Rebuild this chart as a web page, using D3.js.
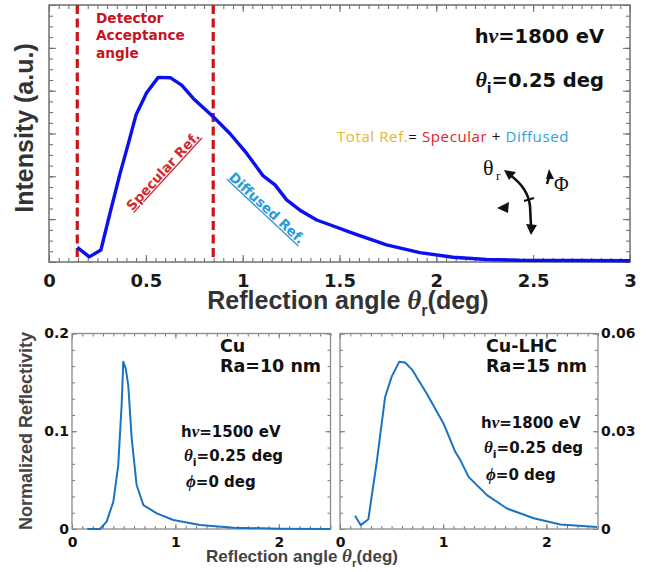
<!DOCTYPE html>
<html>
<head>
<meta charset="utf-8">
<script src="https://cdn.jsdelivr.net/npm/d3@7"></script>
<style>
  body { margin: 0; background: #fff; }
  svg { display: block; }
  .tick text { font-family: "DejaVu Sans", sans-serif; font-weight: bold; }
</style>
</head>
<body>
<svg id="chart" width="651" height="572" font-family="'DejaVu Sans', sans-serif" font-weight="bold"></svg>
<script>
// ---- data ----
// top panel: total reflectivity, Cu-LHC, 1800 eV (arbitrary units)
const topAngle = [0.146, 0.208, 0.268, 0.315, 0.367, 0.41, 0.449, 0.504, 0.564, 0.628, 0.685, 0.745,
  0.848, 0.934, 1.02, 1.106, 1.167, 1.227, 1.296, 1.382, 1.45, 1.571, 1.743, 1.915, 2.087, 2.26, 2.43, 3.0];
const topIntensity = [0.34, 0.12, 0.28, 1.14, 2.07, 2.77, 3.43, 3.95, 4.31, 4.30, 4.13, 3.82,
  3.39, 3.0, 2.54, 2.01, 1.80, 1.45, 1.21, 0.98, 0.87, 0.67, 0.40, 0.22, 0.11, 0.06, 0.04, 0.03];
const acceptance = [0.146, 0.848];

// bottom left: Cu, Ra=10 nm
const cuAngle = [0.148, 0.27, 0.335, 0.40, 0.447, 0.48, 0.496, 0.52, 0.544, 0.577, 0.625, 0.69,
  0.82, 0.98, 1.24, 1.56, 2.0, 2.5];
const cuRefl = [0, 0, 0.0075, 0.028, 0.065, 0.127, 0.171, 0.164, 0.147, 0.093, 0.045, 0.0245,
  0.016, 0.0092, 0.004, 0.0014, 0.0003, 0];

// bottom right: Cu-LHC, Ra=15 nm
const lhcAngle = [0.146, 0.20, 0.275, 0.356, 0.437, 0.50, 0.573, 0.63, 0.696, 0.84, 1.003, 1.117,
  1.165, 1.246, 1.424, 1.618, 1.877, 2.136, 2.49];
const lhcRefl = [0.0041, 0.0012, 0.003, 0.0206, 0.0405, 0.0467, 0.0513, 0.0511, 0.049, 0.0416, 0.0324, 0.0237,
  0.0212, 0.016, 0.0104, 0.0063, 0.0033, 0.0014, 0.0006];

const topXTicks = [0, 0.5, 1, 1.5, 2, 2.5, 3];
const cuYTicks = [0, 0.1, 0.2];
const lhcYTicks = [0, 0.03, 0.06];
const bottomXTicks = [0, 1, 2];

const svg = d3.select("#chart");
svg.append("rect").attr("width", 651).attr("height", 572).attr("fill", "#fff");

const serif = "'Liberation Serif', 'DejaVu Serif', serif";
const helv = "'Liberation Sans', Arial, sans-serif";

// inward ticks on all 4 sides of a frame
function frame(g, x, y, o) {
  const [x0, x1] = x.range();
  const [y0, y1] = y.range();
  const sides = [
    [d3.axisBottom(x), `translate(0,${y0})`, o.xMinor, o.xMajor],
    [d3.axisTop(x), `translate(0,${y1})`, o.xMinor, o.xMajor],
    [d3.axisLeft(y), `translate(${x0},0)`, o.yMinor, o.yMajor],
    [d3.axisRight(y), `translate(${x1},0)`, o.yMinor, o.yMajor]
  ];
  for (const [ax, tr, minor, major] of sides) {
    g.append("g").attr("transform", tr)
      .call(ax.tickValues(minor).tickSize(-o.minorLen).tickFormat("").tickSizeOuter(0))
      .call(a => a.select(".domain").remove());
    g.append("g").attr("transform", tr)
      .call(ax.tickValues(major).tickSize(-o.majorLen).tickFormat("").tickSizeOuter(0))
      .call(a => a.select(".domain").remove());
  }
  g.selectAll(".tick line").attr("stroke", o.tickColor).attr("stroke-width", 1);
  g.append("rect")
    .attr("x", x0).attr("y", y1)
    .attr("width", x1 - x0).attr("height", y0 - y1)
    .attr("fill", "none").attr("stroke", o.frameColor).attr("stroke-width", o.frameWidth);
}

// ================= TOP PANEL =================
const xT = d3.scaleLinear().domain([0, 3]).range([49, 630]);
const yT = d3.scaleLinear().domain([0, 6]).range([262, 5]);
const gT = svg.append("g");

frame(gT, xT, yT, {
  xMinor: d3.range(0, 60.5).map(i => i * 0.05), xMajor: topXTicks,
  yMinor: d3.range(0, 24.5).map(i => i * 0.25), yMajor: d3.range(0, 7),
  minorLen: 4, majorLen: 7, tickColor: "#666", frameColor: "#777", frameWidth: 1.6
});

gT.append("g").attr("transform", `translate(0,${yT.range()[0]})`)
  .call(d3.axisBottom(xT).tickValues(topXTicks).tickSize(0).tickPadding(12)
    .tickFormat(d => String(d)))
  .call(a => a.select(".domain").remove())
  .selectAll("text").attr("font-size", 18).attr("fill", "#1a1a1a");

// acceptance lines
gT.selectAll(".acc").data(acceptance).join("line")
  .attr("x1", d => xT(d)).attr("x2", d => xT(d))
  .attr("y1", yT.range()[1]).attr("y2", yT.range()[0])
  .attr("stroke", "#cc1518").attr("stroke-width", 3.2)
  .attr("stroke-dasharray", "9,4.5");

// curve
gT.append("path")
  .datum(topAngle.map((a, i) => [a, topIntensity[i]]))
  .attr("fill", "none").attr("stroke", "#0b10f0").attr("stroke-width", 3.4)
  .attr("stroke-linejoin", "round")
  .attr("d", d3.line().x(d => xT(d[0])).y(d => yT(d[1])));

// axis titles
gT.append("text")
  .attr("transform", "translate(33,128) rotate(-90)")
  .attr("text-anchor", "middle").attr("font-family", helv).attr("font-size", 25).attr("fill", "#333")
  .text("Intensity (a.u.)");

const xt = gT.append("text").attr("x", 348).attr("y", 309)
  .attr("text-anchor", "middle").attr("font-family", helv).attr("font-size", 25).attr("fill", "#333");
xt.append("tspan").text("Reflection angle ");
xt.append("tspan").attr("font-family", serif).attr("font-style", "italic").attr("font-size", 27).text("θ");
xt.append("tspan").attr("font-size", 16).attr("dy", 7).text("r");
xt.append("tspan").attr("dy", -7).text("(deg)");

// red label
["Detector", "Acceptance", "angle"].forEach((s, i) => {
  gT.append("text").attr("x", 96).attr("y", 23 + i * 17.3)
    .attr("font-size", 13.7).attr("fill", "#c8141c").text(s);
});

gT.append("text")
  .attr("transform", "translate(163,171) rotate(-47.5)")
  .attr("text-anchor", "middle").attr("dy", "0.35em")
  .attr("font-size", 13.5).attr("fill", "#d42a2e")
  .attr("text-decoration", "underline")
  .text("Specular Ref.");

gT.append("text")
  .attr("transform", "translate(267,208) rotate(43)")
  .attr("text-anchor", "middle").attr("dy", "0.35em")
  .attr("font-size", 13.5).attr("fill", "#2a9ad8")
  .attr("text-decoration", "underline")
  .text("Diffused Ref.");

// energy / angle
const e1 = gT.append("text").attr("x", 604).attr("y", 43)
  .attr("text-anchor", "end").attr("font-size", 19.5).attr("fill", "#111");
e1.append("tspan").text("h");
e1.append("tspan").attr("font-family", serif).attr("font-style", "italic").attr("font-size", 22).text("ν");
e1.append("tspan").text("=1800 eV");

const e2 = gT.append("text").attr("x", 604).attr("y", 87)
  .attr("text-anchor", "end").attr("font-size", 19.5).attr("fill", "#111");
e2.append("tspan").attr("font-family", serif).attr("font-style", "italic").attr("font-size", 22).text("θ");
e2.append("tspan").attr("font-size", 14).attr("dy", 6).text("i");
e2.append("tspan").attr("dy", -6).text("=0.25 deg");

const tr = gT.append("text").attr("x", 337).attr("y", 142)
  .attr("font-family", "'Open Sans', sans-serif").attr("font-weight", "normal")
  .attr("font-size", 15).attr("letter-spacing", 0.6);
tr.append("tspan").attr("fill", "#e7b42c").text("Total Ref.");
tr.append("tspan").attr("fill", "#111").text("= ");
tr.append("tspan").attr("fill", "#e0202a").text("Specular");
tr.append("tspan").attr("fill", "#111").text(" + ");
tr.append("tspan").attr("fill", "#2ea0e0").text("Diffused");

// small angle sketch
const sk = gT.append("g").attr("fill", "#111").attr("stroke", "#111");
sk.append("text").attr("x", 483).attr("y", 175).attr("stroke", "none")
  .attr("font-family", serif).attr("font-weight", "normal").attr("font-size", 22).text("θ");
sk.append("text").attr("x", 496).attr("y", 180).attr("stroke", "none")
  .attr("font-family", serif).attr("font-weight", "normal").attr("font-size", 13).text("r");
sk.append("text").attr("x", 554).attr("y", 191).attr("stroke", "none")
  .attr("font-family", serif).attr("font-weight", "normal").attr("font-size", 20).text("Φ");
sk.append("path").attr("fill", "none").attr("stroke-width", 2.6)
  .attr("d", "M510,175 Q528,188 530,206 L531,226");
sk.append("path").attr("stroke", "none").attr("d", "M504,170 L516,172 L509,180 Z");
sk.append("path").attr("stroke", "none").attr("d", "M526,224 L537,225 L531,235 Z");
sk.append("path").attr("stroke", "none").attr("d", "M497,208 L509,202 L508,213 Z");
sk.append("path").attr("fill", "none").attr("stroke-width", 2).attr("d", "M524,201 L534,198");
sk.append("path").attr("stroke", "none").attr("d", "M549,169 L554,179 L546,179 Z");
sk.append("path").attr("fill", "none").attr("stroke-width", 2.5).attr("d", "M549,177 L547,184");

// ================= BOTTOM PANELS =================
function bottomPanel(x, y, ang, val, yTicks, yFmt, yRight) {
  const g = svg.append("g");
  frame(g, x, y, {
    xMinor: d3.range(0, 25.5).map(i => i * 0.1), xMajor: bottomXTicks,
    yMinor: d3.range(0, 12.5).map(i => i * y.domain()[1] / 12), yMajor: yTicks,
    minorLen: 3, majorLen: 5, tickColor: "#777", frameColor: "#8a8a8a", frameWidth: 1.3
  });
  g.append("g").attr("transform", `translate(0,${y.range()[0]})`)
    .call(d3.axisBottom(x).tickValues(bottomXTicks).tickSize(0).tickPadding(8).tickFormat(d => String(d)))
    .call(a => a.select(".domain").remove())
    .selectAll("text").attr("font-size", 14).attr("fill", "#111");
  const ax = yRight ? d3.axisRight(y) : d3.axisLeft(y);
  g.append("g").attr("transform", `translate(${yRight ? x.range()[1] : x.range()[0]},0)`)
    .call(ax.tickValues(yTicks).tickSize(0).tickPadding(3).tickFormat(yFmt))
    .call(a => a.select(".domain").remove())
    .selectAll("text").attr("font-size", 14).attr("fill", "#111");
  g.append("path")
    .datum(ang.map((a, i) => [a, val[i]]))
    .attr("fill", "none").attr("stroke", "#1a73c2").attr("stroke-width", 2)
    .attr("stroke-linejoin", "round")
    .attr("d", d3.line().x(d => x(d[0])).y(d => y(d[1])));
  return g;
}

const xL = d3.scaleLinear().domain([0, 2.5]).range([72, 330.5]);
const yL = d3.scaleLinear().domain([0, 0.2]).range([529, 333.5]);
const gL = bottomPanel(xL, yL, cuAngle, cuRefl, cuYTicks, d => d === 0 ? "0" : d3.format(".1f")(d), false);

const xR = d3.scaleLinear().domain([0, 2.5]).range([340, 598]);
const yR = d3.scaleLinear().domain([0, 0.06]).range([529, 333.5]);
const gR = bottomPanel(xR, yR, lhcAngle, lhcRefl, lhcYTicks, d => d === 0 ? "0" : d3.format(".2f")(d), true);

function params(g, x0, ys, ev) {
  const t1 = g.append("text").attr("x", x0).attr("y", ys[0]).attr("font-size", 15).attr("fill", "#111");
  t1.append("tspan").text("h");
  t1.append("tspan").attr("font-family", serif).attr("font-style", "italic").attr("font-size", 17).text("ν");
  t1.append("tspan").text(`=${ev} eV`);
  const t2 = g.append("text").attr("x", x0 + 3).attr("y", ys[1]).attr("font-size", 15).attr("fill", "#111");
  t2.append("tspan").attr("font-family", serif).attr("font-style", "italic").attr("font-size", 17).text("θ");
  t2.append("tspan").attr("font-size", 11).attr("dy", 5).text("i");
  t2.append("tspan").attr("dy", -5).text("=0.25 deg");
  const t3 = g.append("text").attr("x", x0 + 5).attr("y", ys[2]).attr("font-size", 15).attr("fill", "#111");
  t3.append("tspan").attr("font-family", serif).attr("font-style", "italic").attr("font-size", 17).text("ϕ");
  t3.append("tspan").text("=0 deg");
}

gL.append("text").attr("x", 220).attr("y", 352).attr("font-size", 17.5).attr("fill", "#111").text("Cu");
gL.append("text").attr("x", 220).attr("y", 372).attr("font-size", 17.5).attr("fill", "#111").text("Ra=10 nm");
params(gL, 181, [437, 461, 487], 1500);

gR.append("text").attr("x", 486).attr("y", 352).attr("font-size", 17.5).attr("fill", "#111").text("Cu-LHC");
gR.append("text").attr("x", 486).attr("y", 372).attr("font-size", 17.5).attr("fill", "#111").text("Ra=15 nm");
params(gR, 481, [428, 453, 480], 1800);

// bottom axis titles
svg.append("text")
  .attr("transform", "translate(32,431) rotate(-90)")
  .attr("text-anchor", "middle").attr("font-family", helv).attr("font-size", 18).attr("fill", "#444")
  .text("Normalized Reflectivity");

const bt = svg.append("text").attr("x", 302).attr("y", 562)
  .attr("text-anchor", "middle").attr("font-family", helv).attr("font-size", 17).attr("fill", "#444");
bt.append("tspan").text("Reflection angle ");
bt.append("tspan").attr("font-family", serif).attr("font-style", "italic").attr("font-size", 19).text("θ");
bt.append("tspan").attr("font-size", 11.5).attr("dy", 5).text("r");
bt.append("tspan").attr("dy", -5).text("(deg)");
</script>
</body>
</html>
